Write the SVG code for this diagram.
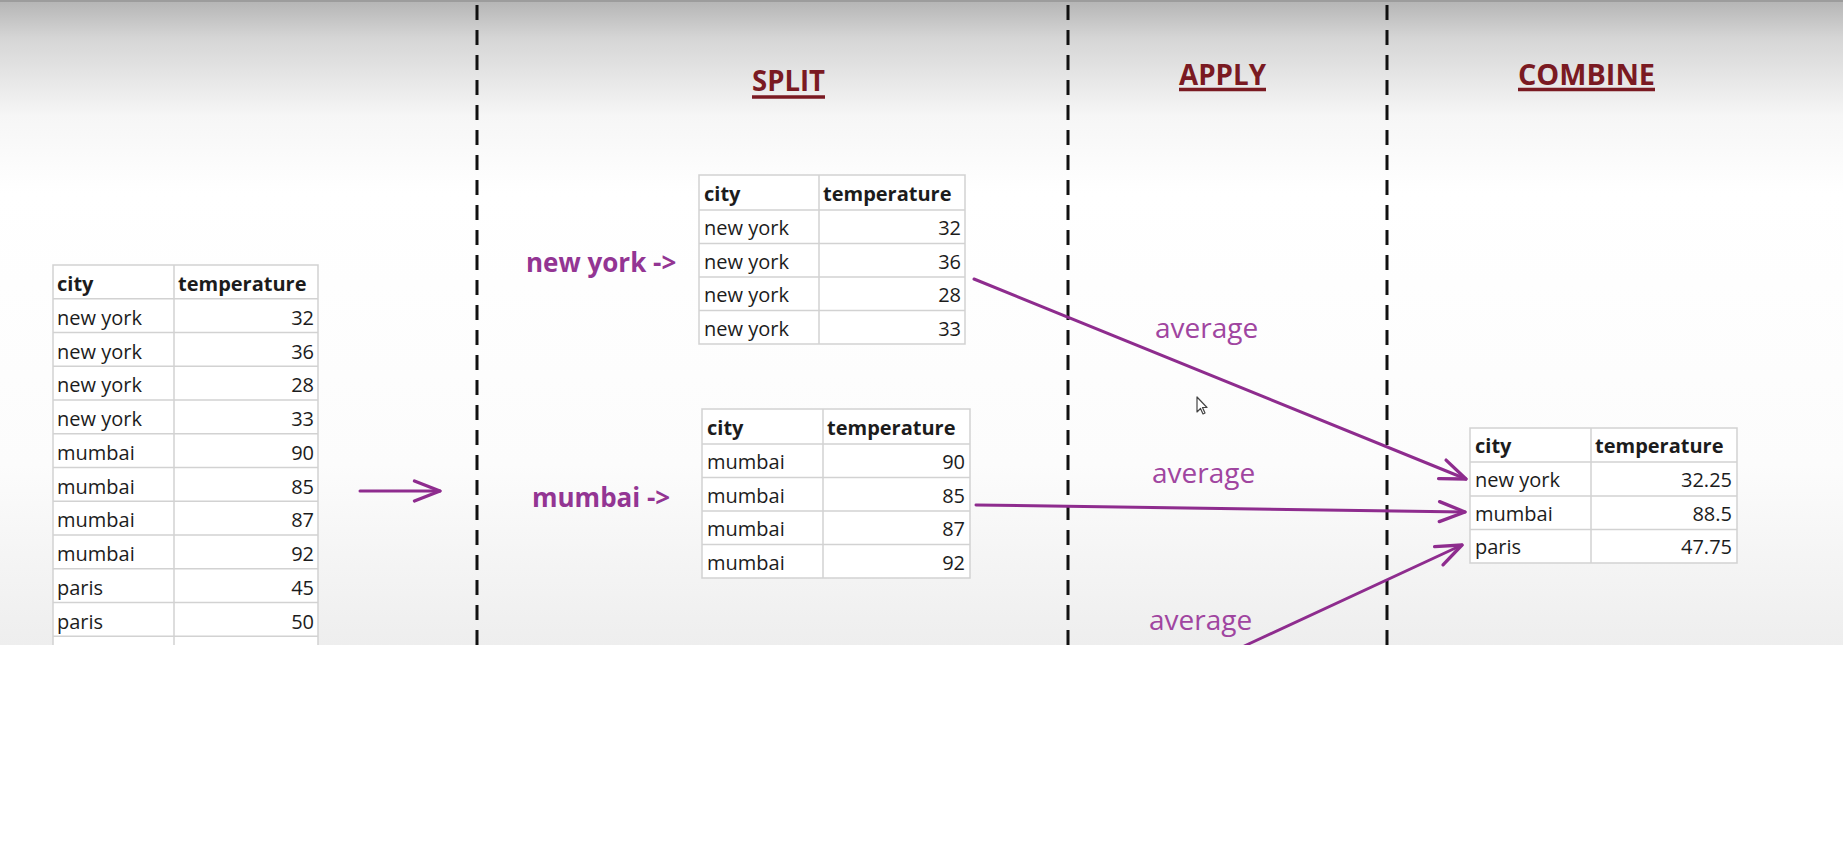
<svg xmlns="http://www.w3.org/2000/svg" width="1843" height="852" viewBox="0 0 1843 852">
  <defs>
    <linearGradient id="bg" x1="0" y1="0" x2="0" y2="645" gradientUnits="userSpaceOnUse">
      <stop offset="0" stop-color="#b4b4b4"/>
      <stop offset="0.06" stop-color="#d6d6d6"/>
      <stop offset="0.18" stop-color="#f6f6f6"/>
      <stop offset="0.3" stop-color="#ffffff"/>
      <stop offset="0.72" stop-color="#fcfcfc"/>
      <stop offset="1" stop-color="#eeeeee"/>
    </linearGradient>
    <marker id="head" markerUnits="userSpaceOnUse" markerWidth="40" markerHeight="40" viewBox="-30 -15 36 30" refX="0" refY="0" orient="auto">
      <path d="M-23,-9 L0,0 L-23,9" fill="none" stroke="#8e2c8e" stroke-width="3" stroke-linecap="round" stroke-linejoin="round"/>
    </marker>
    <style>
      .cell { fill: #ffffff; stroke: #d2d2d2; stroke-width: 1.5; }
      .grid { stroke: #d2d2d2; stroke-width: 1.5; }
      .t { font-family: "Open Sans", "Liberation Sans", sans-serif; font-size: 20px; fill: #1c1c1c; }
      .th { font-family: "Open Sans", "Liberation Sans", sans-serif; font-size: 20px; font-weight: bold; fill: #1c1c1c; }
      .num { text-anchor: end; }
      .head { font-family: "Open Sans", "Liberation Sans", sans-serif; font-size: 29px; font-weight: bold; fill: #7a1a22; }
      .uline { stroke: #7a1a22; stroke-width: 3.5; }
      .lbl { font-family: "Open Sans", "Liberation Sans", sans-serif; font-size: 26px; font-weight: bold; fill: #933593; }
      .avg { font-family: "Open Sans", "Liberation Sans", sans-serif; font-size: 28px; fill: #a045a0; }
      .dash { stroke: #111111; stroke-width: 3; stroke-dasharray: 15 10; }
      .conn { stroke: #8e2c8e; stroke-width: 3; fill: none; stroke-linecap: round; marker-end: url(#head); }
    </style>
  </defs>

  <rect x="0" y="0" width="1843" height="645" fill="url(#bg)"/>
  <rect x="0" y="0" width="1843" height="2" fill="#9c9c9c"/>

  <g id="dividers">
    <line class="dash" x1="477" y1="5" x2="477" y2="645"/>
    <line class="dash" x1="1068" y1="5" x2="1068" y2="645"/>
    <line class="dash" x1="1387" y1="5" x2="1387" y2="645"/>
  </g>

  <g id="headers">
    <text class="head" x="752" y="91" textLength="73" lengthAdjust="spacingAndGlyphs">SPLIT</text>
    <line class="uline" x1="752" y1="97" x2="825" y2="97"/>
    <text class="head" x="1179" y="85" textLength="87" lengthAdjust="spacingAndGlyphs">APPLY</text>
    <line class="uline" x1="1179" y1="89.5" x2="1266" y2="89.5"/>
    <text class="head" x="1518" y="85" textLength="137" lengthAdjust="spacingAndGlyphs">COMBINE</text>
    <line class="uline" x1="1518" y1="89.5" x2="1655" y2="89.5"/>
  </g>

  <g id="source-table">
    <rect class="cell" x="53" y="265" width="265" height="400"/>
    <line class="grid" x1="174" y1="265" x2="174" y2="665"/>
    <line class="grid" x1="53" y1="298.75" x2="318" y2="298.75"/>
    <line class="grid" x1="53" y1="332.5" x2="318" y2="332.5"/>
    <line class="grid" x1="53" y1="366.25" x2="318" y2="366.25"/>
    <line class="grid" x1="53" y1="400" x2="318" y2="400"/>
    <line class="grid" x1="53" y1="433.75" x2="318" y2="433.75"/>
    <line class="grid" x1="53" y1="467.5" x2="318" y2="467.5"/>
    <line class="grid" x1="53" y1="501.25" x2="318" y2="501.25"/>
    <line class="grid" x1="53" y1="535" x2="318" y2="535"/>
    <line class="grid" x1="53" y1="568.75" x2="318" y2="568.75"/>
    <line class="grid" x1="53" y1="602.5" x2="318" y2="602.5"/>
    <line class="grid" x1="53" y1="636.25" x2="318" y2="636.25"/>
    <text class="th" x="57" y="291">city</text>
    <text class="th" x="178" y="291">temperature</text>
    <text class="t" x="57" y="325">new york</text><text class="t num" x="314" y="325">32</text>
    <text class="t" x="57" y="358.5">new york</text><text class="t num" x="314" y="358.5">36</text>
    <text class="t" x="57" y="392.3">new york</text><text class="t num" x="314" y="392.3">28</text>
    <text class="t" x="57" y="426">new york</text><text class="t num" x="314" y="426">33</text>
    <text class="t" x="57" y="459.8">mumbai</text><text class="t num" x="314" y="459.8">90</text>
    <text class="t" x="57" y="493.5">mumbai</text><text class="t num" x="314" y="493.5">85</text>
    <text class="t" x="57" y="527.3">mumbai</text><text class="t num" x="314" y="527.3">87</text>
    <text class="t" x="57" y="561">mumbai</text><text class="t num" x="314" y="561">92</text>
    <text class="t" x="57" y="594.8">paris</text><text class="t num" x="314" y="594.8">45</text>
    <text class="t" x="57" y="628.5">paris</text><text class="t num" x="314" y="628.5">50</text>
  </g>

  <g id="split-newyork">
    <text class="lbl" x="526" y="272">new york -&gt;</text>
    <rect class="cell" x="699" y="175" width="266" height="169"/>
    <line class="grid" x1="819" y1="175" x2="819" y2="344"/>
    <line class="grid" x1="699" y1="210" x2="965" y2="210"/>
    <line class="grid" x1="699" y1="243.5" x2="965" y2="243.5"/>
    <line class="grid" x1="699" y1="277" x2="965" y2="277"/>
    <line class="grid" x1="699" y1="310.5" x2="965" y2="310.5"/>
    <text class="th" x="704" y="201">city</text>
    <text class="th" x="823" y="201">temperature</text>
    <text class="t" x="704" y="235">new york</text><text class="t num" x="961" y="235">32</text>
    <text class="t" x="704" y="268.5">new york</text><text class="t num" x="961" y="268.5">36</text>
    <text class="t" x="704" y="302">new york</text><text class="t num" x="961" y="302">28</text>
    <text class="t" x="704" y="335.5">new york</text><text class="t num" x="961" y="335.5">33</text>
  </g>

  <g id="split-mumbai">
    <text class="lbl" x="532" y="507">mumbai -&gt;</text>
    <rect class="cell" x="702" y="409" width="268" height="169"/>
    <line class="grid" x1="823" y1="409" x2="823" y2="578"/>
    <line class="grid" x1="702" y1="444" x2="970" y2="444"/>
    <line class="grid" x1="702" y1="477.5" x2="970" y2="477.5"/>
    <line class="grid" x1="702" y1="511" x2="970" y2="511"/>
    <line class="grid" x1="702" y1="544.5" x2="970" y2="544.5"/>
    <text class="th" x="707" y="435">city</text>
    <text class="th" x="827" y="435">temperature</text>
    <text class="t" x="707" y="469">mumbai</text><text class="t num" x="965" y="469">90</text>
    <text class="t" x="707" y="502.5">mumbai</text><text class="t num" x="965" y="502.5">85</text>
    <text class="t" x="707" y="536">mumbai</text><text class="t num" x="965" y="536">87</text>
    <text class="t" x="707" y="569.5">mumbai</text><text class="t num" x="965" y="569.5">92</text>
  </g>

  <g id="apply-labels">
    <text class="avg" x="1155" y="338">average</text>
    <text class="avg" x="1152" y="483">average</text>
    <text class="avg" x="1149" y="630">average</text>
  </g>

  <g id="combine-table">
    <rect class="cell" x="1470" y="428" width="267" height="135"/>
    <line class="grid" x1="1591" y1="428" x2="1591" y2="563"/>
    <line class="grid" x1="1470" y1="462" x2="1737" y2="462"/>
    <line class="grid" x1="1470" y1="496" x2="1737" y2="496"/>
    <line class="grid" x1="1470" y1="529.5" x2="1737" y2="529.5"/>
    <text class="th" x="1475" y="453">city</text>
    <text class="th" x="1595" y="453">temperature</text>
    <text class="t" x="1475" y="487">new york</text><text class="t num" x="1732" y="487">32.25</text>
    <text class="t" x="1475" y="520.5">mumbai</text><text class="t num" x="1732" y="520.5">88.5</text>
    <text class="t" x="1475" y="554">paris</text><text class="t num" x="1732" y="554">47.75</text>
  </g>

  <g id="connectors">
    <line class="conn" x1="360" y1="491" x2="440" y2="491"/>
    <line class="conn" x1="974" y1="279" x2="1466" y2="479"/>
    <line class="conn" x1="976" y1="505" x2="1465" y2="512"/>
    <line class="conn" x1="1240" y1="648" x2="1462" y2="545"/>
  </g>

  <g id="cursor">
    <path d="M1197,397 L1197,412 L1200.5,408.5 L1203,414 L1205,413 L1202.5,407.5 L1207,407.5 Z" fill="#ffffff" stroke="#444444" stroke-width="1.2" stroke-linejoin="round"/>
  </g>

  <rect x="0" y="645" width="1843" height="207" fill="#ffffff"/>
</svg>
